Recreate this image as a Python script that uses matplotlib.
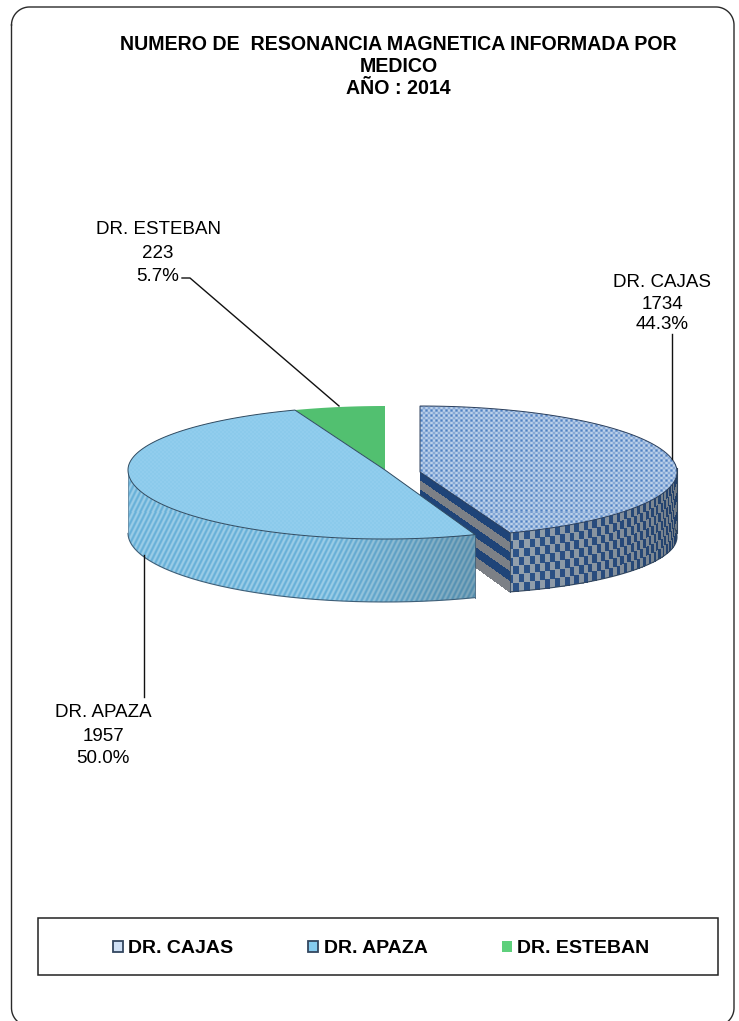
import numpy as np
import matplotlib
matplotlib.use("Agg")
import matplotlib.pyplot as plt
from matplotlib.patches import Polygon, Rectangle, Patch
from matplotlib.colors import ListedColormap

# ---- data ----
doctors = ["DR. CAJAS", "DR. APAZA", "DR. ESTEBAN"]
counts = [1734, 1957, 223]
title_lines = ["NUMERO DE  RESONANCIA MAGNETICA INFORMADA POR", "MEDICO", "AÑO : 2014"]

plt.rcParams["font.family"] = ["Liberation Sans", "DejaVu Sans"]
W, H = 739, 1021
fig = plt.figure(figsize=(W / 100, H / 100), dpi=100, facecolor="white")
ax = fig.add_axes([0, 0, 1, 1])
ax.axis("off")

total = sum(counts)
shares = [c / total for c in counts]
edges = np.cumsum([0] + shares) * 2 * np.pi   # clockwise from 12 o'clock
a_c0, a_c1 = edges[0], edges[1]
a_a0, a_a1 = edges[1], edges[2]
a_e0, a_e1 = edges[2], edges[3]

RX = 257.0


def rim(theta, cx, cy, back=64.0, front=68.0):
    theta = np.asarray(theta, float)
    c = np.cos(theta)
    ry = np.where(c > 0, back, front)
    return cx + RX * np.sin(theta), cy - ry * c


def soften(img):
    out = img.copy()
    for ax_i in (0, 1):
        out = (np.roll(out, 1, ax_i) + 2 * out + np.roll(out, -1, ax_i)) / 4
    return out


def textured(poly_xy, tex, zorder, edge=None, lw=0.8):
    """Fill a polygon with a 1:1 pixel texture (tex is function of pixel x, y -> RGB)."""
    poly = Polygon(poly_xy, closed=True, facecolor="none", edgecolor="none",
                   transform=ax.transData)
    ax.add_patch(poly)
    X, Y = np.meshgrid(np.arange(W), np.arange(H))
    im = ax.imshow(soften(tex(X, Y)), extent=(0, W, H, 0), interpolation="nearest",
                   aspect="auto", zorder=zorder, origin="upper")
    im.set_clip_path(poly)
    if edge:
        ax.add_patch(Polygon(poly_xy, closed=True, fill=False, edgecolor=edge,
                             linewidth=lw, zorder=zorder + 0.1))


def hexrgb(h):
    return np.array(matplotlib.colors.to_rgb(h))


def two_tone(mask, a, b):
    out = np.zeros(mask.shape + (3,))
    out[mask] = hexrgb(a)
    out[~mask] = hexrgb(b)
    return out


# ---- Cajas slice (exploded to the right) ----
CCX, CCY = 420.0, 472.0
depth_corner, depth_right, depth_apex = 59.0, 65.0, 55.0
th_c = np.linspace(a_c0, a_c1, 200)
xc, yc = rim(th_c, CCX, CCY, back=66.0, front=65.0)

# flat cut side: stripes parallel to the top edge
rows = 6
U, V = np.meshgrid(np.linspace(0, 1, 2), np.linspace(0, 1, rows + 1))
ptop = np.array([CCX, CCY]), np.array([xc[-1], yc[-1]])
MX = ptop[0][0] + U * (ptop[1][0] - ptop[0][0])
depths = depth_apex + U * (depth_corner - depth_apex)
MY = ptop[0][1] + U * (ptop[1][1] - ptop[0][1]) + V * depths
CS = (np.indices((rows, 1)).sum(axis=0) % 2).astype(float)
ax.pcolormesh(MX, MY, CS, cmap=ListedColormap(["#1f4478", "#7c8086"]), shading="flat",
              zorder=2, linewidth=0)

# curved side: checker following the rim
th_side = np.arange(np.pi / 2 - 0.14, a_c1 + 1e-6, np.radians(1.3))
th_side = np.append(th_side[th_side < a_c1], a_c1)
xs_top, ys_top = rim(th_side, CCX, CCY, back=66.0, front=65.0)
dep = depth_right - np.clip(th_side - np.pi / 2, 0, None) / (a_c1 - np.pi / 2) * (depth_right - depth_corner)
v = np.linspace(0, 1, 8)
SX = np.outer(xs_top, np.ones_like(v))
SY = np.outer(ys_top, np.ones_like(v)) + np.outer(dep, v)
I, J = np.indices((len(th_side) - 1, 7))
chk = (I + J) % 2
shade = np.linspace(0.62, 1.0, len(th_side) - 1)[:, None] ** 0.7
rgb = np.where(chk[..., None] == 0, hexrgb("#2c5288"), hexrgb("#93a0ad")) * shade[..., None]
ax.pcolormesh(SX, SY, rgb, shading="flat", zorder=2.2, linewidth=0)
ax.plot(xs_top, ys_top + dep, color="#33475f", lw=0.8, zorder=2.3)
ax.plot([xs_top[-1]] * 2, [ys_top[-1], ys_top[-1] + depth_corner], color="#33475f", lw=0.6, zorder=2.3)
ax.plot([CCX + RX, CCX + RX], [CCY - 4, CCY + 61], color="#33475f", lw=0.8, zorder=2.3)


def tex_cajas(X, Y):
    return two_tone((((X * 2) // 5 + (Y * 2) // 5) % 2) == 0, "#4f80c2", "#e3edf8")


textured(np.column_stack([np.r_[CCX, xc], np.r_[CCY, yc]]), tex_cajas, 2.5, edge="#2b3f5c", lw=0.7)

# ---- Esteban slice ----
ECX, ECY = 385.0, 470.0
th_e = np.linspace(a_e0, a_e1, 80)
xe, ye = rim(th_e, ECX, ECY)
ax.add_patch(Polygon(np.column_stack([np.r_[ECX, xe], np.r_[ECY, ye]]), closed=True,
                     facecolor="#52c070", edgecolor="none", zorder=3))

# ---- Apaza slice ----
th_a = np.linspace(a_a0, a_a1, 300)
xa, ya = rim(th_a, ECX, ECY, back=64.0, front=69.0)
A_DEPTH = 63.0


def tex_aside(X, Y):
    base = two_tone(((2 * X + Y) % 10) < 5, "#5fabd6", "#a4d3ea")
    f = 1 - 0.2 * np.clip((X - 330) / 145, 0, 1)
    return base * f[..., None]


mid = th_a[(th_a >= a_a0) & (th_a <= 3 * np.pi / 2)]
sx, sy = rim(mid, ECX, ECY, back=64.0, front=69.0)
side_poly = np.column_stack([np.r_[sx, sx[::-1]], np.r_[sy, sy[::-1] + A_DEPTH]])
textured(side_poly, tex_aside, 4, edge=None)
ax.plot(sx, sy + A_DEPTH, color="#3e5f78", lw=0.8, zorder=4.2)
ax.plot([sx[0]] * 2, [sy[0], sy[0] + A_DEPTH], color="#3e5f78", lw=0.6, zorder=4.2)
ax.plot([sx[-1]] * 2, [sy[-1], sy[-1] + A_DEPTH], color="#6a8ca3", lw=0.6, zorder=4.2)


def tex_atop(X, Y):
    return two_tone(((X // 2 + Y // 2) % 2) == 0, "#82c5e9", "#9ad3f0")


textured(np.column_stack([np.r_[ECX, xa], np.r_[ECY, ya]]), tex_atop, 4.5, edge="#2f4a60", lw=0.7)

# ---- leader lines ----
lc = "#111111"
ax.plot([182, 190, 339], [278, 278, 406], color=lc, lw=1.0, zorder=5)
ax.plot([672, 672], [334, 459], color=lc, lw=1.0, zorder=5)
ax.plot([144, 144], [555, 697], color=lc, lw=1.0, zorder=5)

# ---- data labels ----
lab_pos = [(662, (282, 304, 324)), (103, (712, 736, 758)), (158, (229, 253, 276))]
for name, cnt, sh, (lx, lys) in zip(doctors, counts, shares, lab_pos):
    for txt, ly in zip((name, str(cnt), f"{sh * 100:.1f}%"), lys):
        ax.text(lx, ly, txt, ha="center", va="center", fontsize=13.5, color="#000000", zorder=6)

# ---- title ----
for line, ly in zip(title_lines, (44, 66, 88)):
    ax.text(398.5, ly, line, ha="center", va="center", fontsize=14.1, fontweight="bold",
            color="#000000", zorder=6)

# ---- frames ----
fx0, fx1, fy0, fy1, fr = 11.5, 734.0, 7.0, 1026.0, 18.0
t = np.linspace(0, np.pi / 2, 30)
frame_x = np.r_[fx0 + fr - fr * np.cos(t), fx1 - fr + fr * np.sin(t),
                fx1 - fr + fr * np.cos(t), fx0 + fr - fr * np.sin(t), fx0]
frame_y = np.r_[fy0 + fr - fr * np.sin(t), fy0 + fr - fr * np.cos(t),
                fy1 - fr + fr * np.sin(t), fy1 - fr + fr * np.cos(t), fy0 + fr]
ax.plot(frame_x, frame_y, color="#2a2a2a", lw=1.0, zorder=1)
ax.add_patch(Rectangle((38, 918), 680, 57, fill=False, edgecolor="#222222", linewidth=1.1, zorder=1))

# ---- legend ----
sw_styles = [("#cfe0f5", "#33465f"), ("#86ccef", "#33465f"), ("#5ed07c", "none")]
handles = [Patch(facecolor=f, edgecolor=e, linewidth=1.3, label=d)
           for d, (f, e) in zip(doctors, sw_styles)]
ax.legend(handles=handles, ncol=3, frameon=False, loc="center",
          bbox_to_anchor=(381.5, 948.5), bbox_transform=ax.transData,
          prop={"size": 14, "weight": "bold"}, handlelength=0.5, handleheight=0.5,
          handletextpad=0.28, columnspacing=3.85, borderpad=0, borderaxespad=0)

ax.set_xlim(0, W)
ax.set_ylim(H, 0)
fig.savefig("out.png", dpi=100, facecolor="white")
